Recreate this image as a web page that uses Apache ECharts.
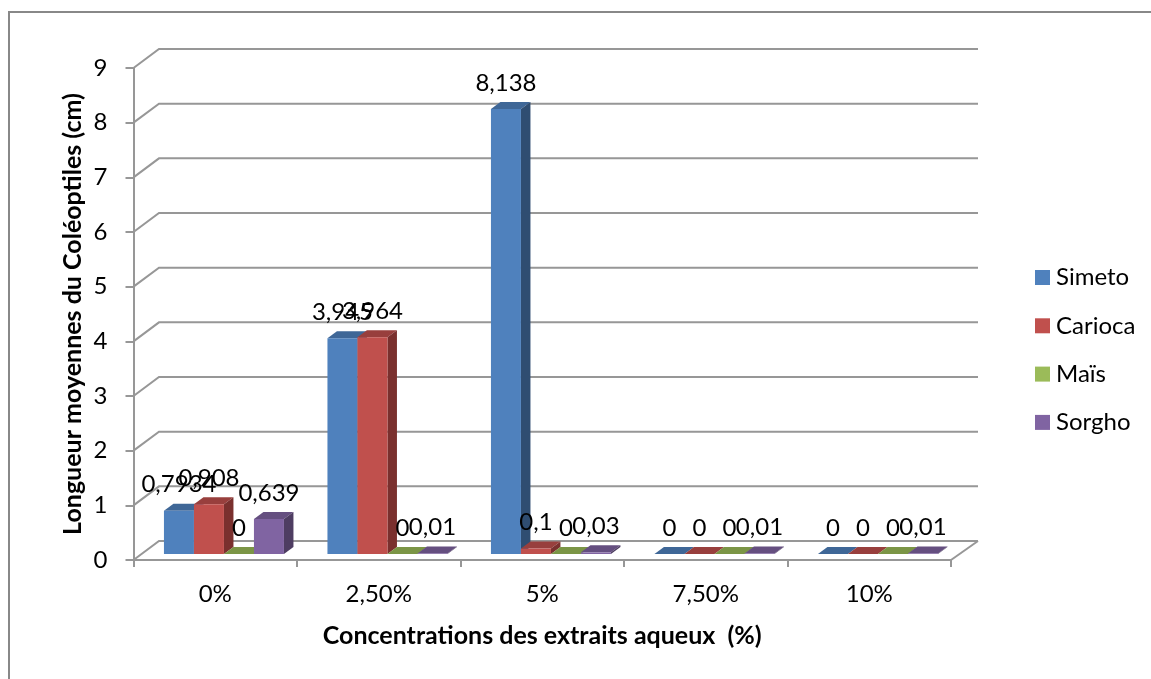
<!DOCTYPE html>
<html>
<head>
<meta charset="utf-8">
<style>
  html, body { margin: 0; padding: 0; background: #fff; }
  #chart { width: 1151px; height: 679px; }
</style>
<script src="https://cdn.jsdelivr.net/npm/echarts@6/dist/echarts.min.js"></script>
</head>
<body>
<div id="chart"></div>
<script>
const categories = ["0%", "2,50%", "5%", "7,50%", "10%"];
const simeto = [0.7934, 3.945, 8.138, 0, 0];
const carioca = [0.908, 3.964, 0.1, 0, 0];
const mais = [0, 0, 0, 0, 0];
const sorgho = [0.639, 0.01, 0.03, 0.01, 0.01];
const yTicks = [0, 1, 2, 3, 4, 5, 6, 7, 8, 9];

const seriesDefs = [
  { name: "Simeto", values: simeto, front: "#4f81bd", top: "#3f6797", side: "#2f4d71" },
  { name: "Carioca", values: carioca, front: "#c0504d", top: "#983f3d", side: "#7a302e" },
  { name: "Maïs", values: mais, front: "#9bbb59", top: "#7b9546", side: "#5d7034" },
  { name: "Sorgho", values: sorgho, front: "#8064a2", top: "#654f80", side: "#4e3d62" },
];

const font = "Lato";
const wallDx = 25.5, wallDy = 19;   // depth of the floor in px
const planeDx = 8.7, planeDy = 6;   // bars stand this far behind the front edge
const barDx = 9.5, barDy = 7;       // depth of one bar
const barRatio = 30 / 163.5;

// back wall lines, side lines and floor
function renderWall(params, api) {
  const v = api.value(1);
  const y = api.coord([0, v])[1];
  const left = params.coordSys.x;
  const right = left + params.coordSys.width;
  const lineStyle = { stroke: "#979797", lineWidth: 2, fill: null };
  const children = [{
    type: "polyline",
    shape: { points: [[left, y], [left + wallDx, y - wallDy], [right + wallDx + 1.5, y - wallDy]] },
    style: lineStyle,
  }];
  if (v === 0) {
    children.push({
      type: "line",
      shape: { x1: right, y1: y, x2: right + wallDx + 1.5, y2: y - wallDy },
      style: lineStyle,
    });
  }
  return { type: "group", children };
}

function makeBarRenderer(index, def) {
  return function (params, api) {
    const pt = api.coord([api.value(0), api.value(1)]);
    const base = api.coord([api.value(0), 0]);
    const w = api.size([1, 0])[0] * barRatio;
    const x0 = pt[0] + planeDx + (index - 2) * w;
    const x1 = x0 + w;
    const yTop = pt[1] - planeDy;
    const yBase = base[1] - planeDy;
    const children = [];
    // top face
    children.push({
      type: "polygon",
      shape: { points: [[x0, yTop], [x0 + barDx, yTop - barDy], [x1 + barDx, yTop - barDy], [x1, yTop]] },
      style: { fill: def.top },
    });
    if (yBase - yTop > 0.5) {
      children.push({
        type: "polygon",
        shape: { points: [[x1, yTop], [x1 + barDx, yTop - barDy], [x1 + barDx, yBase - barDy], [x1, yBase]] },
        style: { fill: def.side },
      });
      children.push({
        type: "rect",
        shape: { x: x0, y: yTop, width: w, height: yBase - yTop },
        style: { fill: def.front },
      });
    }
    return { type: "group", children };
  };
}

function makeLabelRenderer(index) {
  return function (params, api) {
    const pt = api.coord([api.value(0), api.value(1)]);
    const w = api.size([1, 0])[0] * barRatio;
    return {
      type: "text",
      x: pt[0] + planeDx + (index - 2) * w + w / 2,
      y: pt[1] - planeDy - 26,
      style: {
        text: String(api.value(1)).replace(".", ","),
        font: "24px " + font,
        fill: "#000",
        align: "center",
        verticalAlign: "middle",
      },
    };
  };
}

const series = [{
  name: "wall",
  type: "custom",
  z: 1,
  silent: true,
  renderItem: renderWall,
  data: yTicks.map((v) => [0, v]),
}];

seriesDefs.forEach((def, i) => {
  series.push({
    name: def.name,
    type: "custom",
    z: 2 + i,
    silent: true,
    itemStyle: { color: def.front },
    renderItem: makeBarRenderer(i, def),
    data: def.values.map((v, c) => [c, v]),
  });
});
seriesDefs.forEach((def, i) => {
  series.push({
    name: def.name + " labels",
    type: "custom",
    z: 10 + i,
    silent: true,
    renderItem: makeLabelRenderer(i),
    data: def.values.map((v, c) => [c, v]),
  });
});

const myChart = echarts.init(document.getElementById("chart"));
myChart.setOption({
  animation: false,
  backgroundColor: "#fff",
  graphic: [{
    type: "polyline",
    silent: true,
    shape: { points: [[9, 679], [9, 12], [1151, 12]] },
    style: { stroke: "#888888", lineWidth: 2, fill: null },
  }],
  grid: { left: 133.5, right: 200, top: 68, bottom: 119, containLabel: false },
  legend: {
    orient: "vertical",
    left: 1035,
    top: 265.5,
    padding: 0,
    itemWidth: 15,
    itemHeight: 15,
    itemGap: 24.3,
    icon: "rect",
    data: seriesDefs.map((d) => d.name),
    textStyle: { fontFamily: font, fontSize: 24, color: "#000", padding: [0, 0, 0, 1] },
  },
  xAxis: {
    type: "category",
    data: categories,
    name: "Concentrations des extraits aqueux  (%)",
    nameLocation: "middle",
    nameGap: 63,
    nameMoveOverlap: false,
    nameTextStyle: { fontFamily: font, fontSize: 25, fontWeight: "bold", color: "#000" },
    axisLine: { lineStyle: { color: "#979797", width: 2 } },
    axisTick: { show: true, length: 7, lineStyle: { color: "#979797", width: 2 } },
    axisLabel: { fontFamily: font, fontSize: 24, color: "#000", margin: 22 },
    splitLine: { show: false },
  },
  yAxis: {
    type: "value",
    min: 0,
    max: 9,
    interval: 1,
    name: "Longueur moyennes du Coléoptiles (cm)",
    nameLocation: "middle",
    nameGap: 48,
    nameMoveOverlap: false,
    nameTextStyle: { fontFamily: font, fontSize: 25, fontWeight: "bold", color: "#000" },
    axisLine: { show: true, lineStyle: { color: "#979797", width: 2 } },
    axisTick: { show: true, length: 8, lineStyle: { color: "#979797", width: 2 } },
    axisLabel: { fontFamily: font, fontSize: 24, color: "#000", margin: 26 },
    splitLine: { show: false },
  },
  series,
});
</script>
</body>
</html>
